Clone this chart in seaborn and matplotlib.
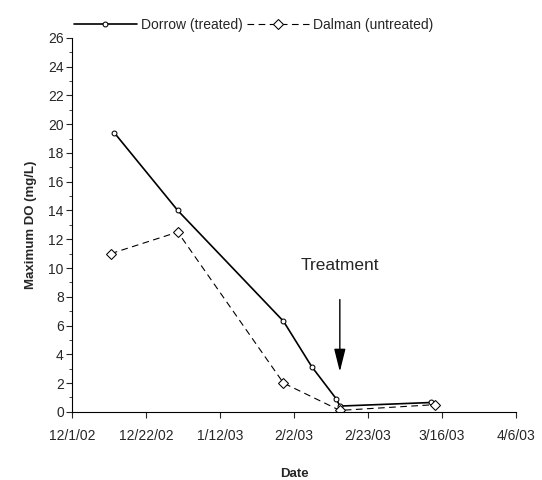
import matplotlib
matplotlib.use("Agg")
import matplotlib.pyplot as plt
import matplotlib.dates as mdates
import seaborn as sns
import pandas as pd
import numpy as np

dorrow_dates = ["2002-12-13", "2002-12-31", "2003-01-30", "2003-02-07", "2003-02-14", "2003-02-15", "2003-03-13"]
dorrow_do = [19.4, 14.0, 6.3, 3.15, 0.9, 0.4, 0.65]
dalman_dates = ["2002-12-12", "2002-12-31", "2003-01-30", "2003-02-15", "2003-03-14"]
dalman_do = [11.0, 12.5, 2.0, 0.1, 0.5]
xtick_dates = ["2002-12-01", "2002-12-22", "2003-01-12", "2003-02-02", "2003-02-23", "2003-03-16", "2003-04-06"]

sns.set_style("white")
plt.rcParams['font.family'] = ['Liberation Sans', 'DejaVu Sans']

d1 = pd.DataFrame({"x": mdates.date2num(pd.to_datetime(dorrow_dates)), "y": dorrow_do})
d2 = pd.DataFrame({"x": mdates.date2num(pd.to_datetime(dalman_dates)), "y": dalman_do})

fig, ax = plt.subplots(figsize=(5.42, 4.8), dpi=100)
fig.subplots_adjust(left=0.133, right=0.952, top=0.921, bottom=0.142)
sns.lineplot(data=d1, x="x", y="y", ax=ax, color="black", lw=1.2, marker="o", ms=3.5,
             mfc="white", mec="black", label="Dorrow (treated)")
sns.lineplot(data=d2, x="x", y="y", ax=ax, color="black", lw=0.8, ls=(0, (6, 4)), marker="D", ms=5,
             mfc="white", mec="black", label="Dalman (untreated)")

ticks = mdates.date2num(pd.to_datetime(xtick_dates))
ax.set_xlim(ticks[0], ticks[-1])
ax.set_xticks(ticks)
ax.set_xticklabels([f"{d.month}/{d.day}/{d.strftime('%y')}" for d in pd.to_datetime(xtick_dates)], fontsize=10)
ax.set_ylim(0, 26)
ax.set_yticks(np.arange(0, 27, 2))
ax.set_yticks(np.arange(1, 26, 2), minor=True)
ax.tick_params(axis="y", which="both", direction="out", left=True, length=4, labelsize=10, pad=2)
ax.tick_params(axis="y", which="minor", length=2)
ax.tick_params(axis="x", direction="out", bottom=True, length=4, pad=8)
ax.set_xlabel("Date", fontsize=9.5, fontweight="bold", labelpad=18)
ax.set_ylabel("Maximum DO (mg/L)", fontsize=9.5, fontweight="bold", labelpad=8)
for s in ["top", "right"]:
    ax.spines[s].set_visible(False)
for s in ["left", "bottom"]:
    ax.spines[s].set_color("black")
    ax.spines[s].set_linewidth(0.8)

tx = mdates.date2num(pd.Timestamp("2003-02-15"))
ax.annotate("", xy=(tx, 2.6), xytext=(tx, 8.0),
            arrowprops=dict(arrowstyle="-|>,head_length=1.4,head_width=0.35", color="black", lw=1.0, mutation_scale=10))
ax.text(tx, 10.15, "Treatment", ha="center", va="center", fontsize=12.5)

ax.legend(loc="lower left", bbox_to_anchor=(-0.005, 1.005), ncol=2, frameon=False, fontsize=10,
          handlelength=4.5, columnspacing=0.3, handletextpad=0.3, borderaxespad=0.3, borderpad=0)
fig.savefig("out.png", dpi=100)
